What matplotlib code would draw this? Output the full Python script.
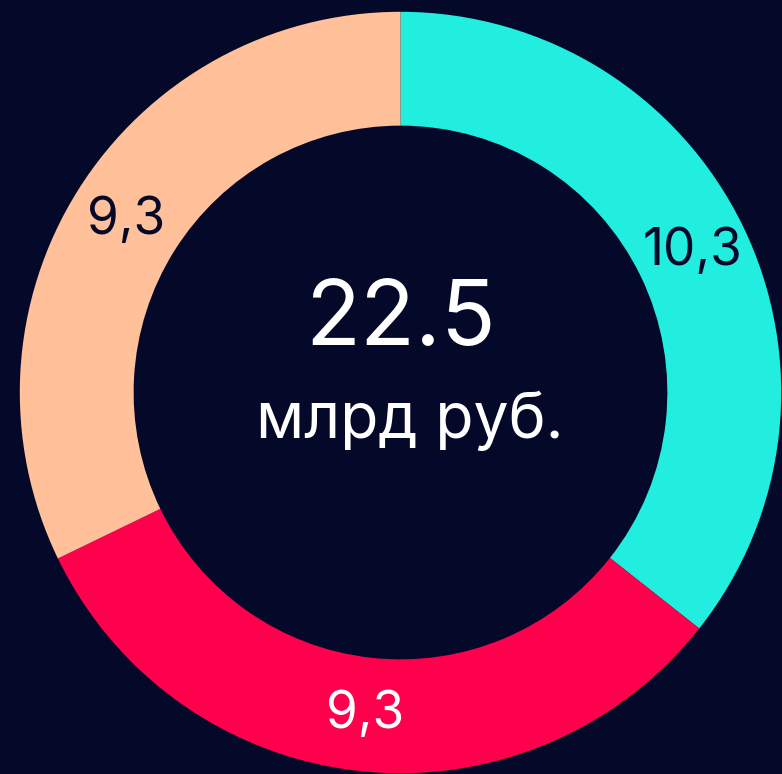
import numpy as np
import matplotlib.pyplot as plt

# ==========================
# DATA
# ==========================

values = [10.3, 9.3, 9.3]
value_labels = ["10,3", "9,3", "9,3"]
colors = ["#22EEE0", "#FF004D", "#FFC09A"]
label_colors = ["#04092A", "#FFFFFF", "#04092A"]
total_text = "22.5"
unit_text = "млрд руб."

bg = "#04092A"

# ==========================
# CHART
# ==========================

plt.rcParams['font.family'] = ['Inter', 'DejaVu Sans']

fig = plt.figure(figsize=(7.82, 7.74), dpi=100, facecolor=bg)
ax = fig.add_axes([0, 0, 1, 1])
ax.set_facecolor(bg)

cx, cy = 400.5, 774 - 392.5
r_out = 380.7

wedges, _ = ax.pie(
    values,
    colors=colors,
    startangle=90,
    counterclock=False,
    radius=r_out,
    center=(cx, cy),
    wedgeprops=dict(width=r_out * 0.299, linewidth=0),
    frame=True,
)

# value labels in the middle of the ring
r_lab = r_out * 0.852
for w, txt, tc in zip(wedges, value_labels, label_colors):
    ang = np.deg2rad((w.theta1 + w.theta2) / 2)
    ax.text(cx + r_lab * np.cos(ang), cy + r_lab * np.sin(ang), txt,
            ha='center', va='center', fontsize=37, color=tc)

ax.text(cx, 774 - 321, total_text, ha='center', va='center',
        fontsize=65, color='white')
ax.text(cx + 9, 774 - 421, unit_text, ha='center', va='center',
        fontsize=45, color='white')

ax.set_xlim(0, 782)
ax.set_ylim(0, 774)
ax.set_aspect('equal')
ax.axis('off')

fig.savefig("out.png", dpi=100, facecolor=bg)
